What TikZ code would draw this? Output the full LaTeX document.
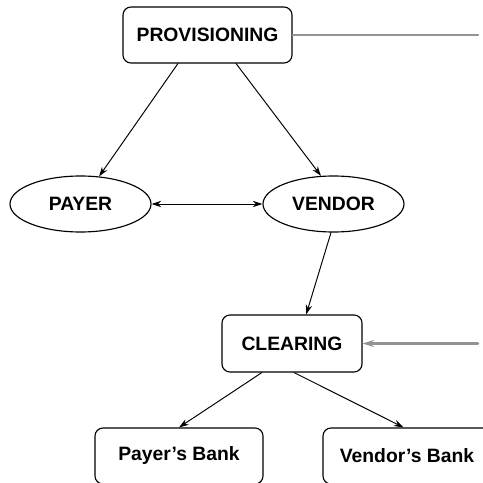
\documentclass[tikz,border=0pt]{standalone}
\usepackage{fontspec}
\setmainfont{Liberation Sans}
\usetikzlibrary{arrows.meta,shapes.geometric}

\begin{document}
\begin{tikzpicture}[>={Stealth[length=5.5pt,width=3.6pt]},line cap=round,
  font=\fontsize{11}{13}\selectfont\bfseries,
  box/.style={draw,line width=0.65pt,rounded corners=0.16cm,inner sep=0pt,minimum width=3.38cm,minimum height=1.12cm},
  oval/.style={draw,line width=0.65pt,ellipse,inner sep=0pt,minimum width=2.82cm,minimum height=1.12cm},
  link/.style={->,line width=0.55pt},
  feed/.style={gray!85,line width=1.4pt}]
\useasboundingbox (0,0) rectangle (9.66,9.66);
\clip (0,0) rectangle (9.66,9.66);
\node[box] (prov) at (4.15,8.96) {PROVISIONING};
\node[oval] (payer) at (1.61,5.58) {PAYER};
\node[oval] (vendor) at (6.67,5.58) {VENDOR};
\node[box,minimum width=2.80cm,minimum height=1.14cm] (clear) at (5.84,2.79) {CLEARING};
\node[box,minimum width=3.36cm] (pbank) at (3.58,0.54) {Payer's Bank};
\node[box,minimum width=3.36cm] (vbank) at (8.14,0.54) {Vendor's Bank};
\coordinate (provout) at (9.56,8.96);
\coordinate (clearin) at (9.56,2.79);
% flows between the parties
\draw[link] (prov.224) -- (payer.56);
\draw[link] (prov.315) -- (vendor.114);
\draw[link,<->] (payer) -- (vendor);
\draw[link] (vendor.265) -- (clear.64);
\draw[link] (clear.224) -- (pbank.north);
\draw[link] (clear.274) -- (vbank.97);
% outside links
\draw[feed] (prov) -- (provout);
\draw[feed,->,>={Stealth[length=6.5pt,width=4pt]}] (clearin) -- (clear);
\end{tikzpicture}
\end{document}
